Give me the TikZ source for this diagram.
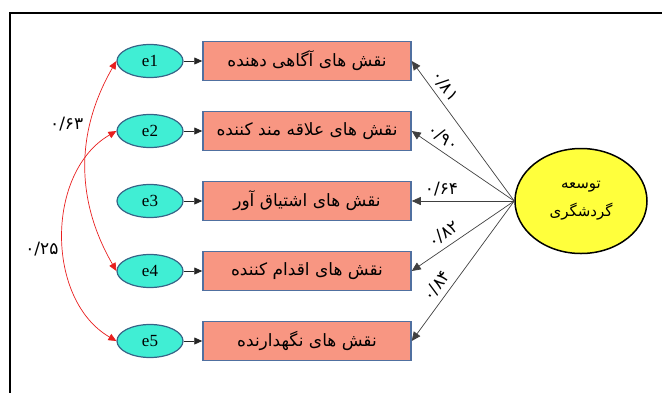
\documentclass[tikz,border=0pt]{standalone}
\usepackage{fontspec}
\setmainfont{Liberation Serif}
\newfontfamily\farsi[Script=Arabic]{DejaVu Sans}
\TeXXeTstate=1
\usepackage{tikz}
\usetikzlibrary{shapes.geometric,arrows.meta}

\definecolor{errfill}{RGB}{64,238,212}
\definecolor{errline}{RGB}{55,100,135}
\definecolor{boxfill}{RGB}{248,150,130}
\definecolor{boxline}{RGB}{80,112,160}
\definecolor{tgfill}{RGB}{255,255,60}
\definecolor{corrred}{RGB}{232,30,30}

\begin{document}
\begin{tikzpicture}[
                    x=1pt, y=1pt,
                    node distance=70pt,
                    errnode/.style={
                        ellipse,
                        draw=errline,
                        fill=errfill,
                        line width=1.2pt,
                        minimum width=66pt,
                        minimum height=33pt,
                        inner sep=0pt,
                        font=\fontsize{17}{19}\selectfont
                    },
                    rolebox/.style={
                        rectangle,
                        draw=boxline,
                        fill=boxfill,
                        line width=1.5pt,
                        minimum width=208pt,
                        minimum height=39pt,
                        inner sep=2pt,
                        font=\farsi\fontsize{17}{19}\selectfont
                    },
                    latent/.style={
                        ellipse,
                        draw,
                        fill=tgfill,
                        line width=1.5pt,
                        minimum width=132pt,
                        minimum height=105pt,
                        inner sep=0pt,
                        align=center,
                        font=\farsi\fontsize{15}{17}\selectfont
                    },
                    errarrow/.style={-{Triangle[length=8pt,width=7pt]}, draw=black!85, line width=0.8pt},
                    loading/.style={-{Triangle[length=9pt,width=8pt]}, draw=black!75, line width=0.7pt},
                    corr/.style={{Triangle[length=8pt,width=7pt]}-{Triangle[length=8pt,width=7pt]}, draw=corrred, line width=0.7pt},
                    coef/.style={font=\farsi\fontsize{17}{19}\selectfont, sloped, above=3pt, inner sep=2pt},
                    corrlabel/.style={font=\farsi\fontsize{17}{19}\selectfont, inner sep=2pt}
                ]
                    \useasboundingbox (-150,61) rectangle (512,-331);
                    \clip (-150,61) rectangle (512,-331);
                    \draw[line width=1.6pt] (-140,48) rectangle (530,-350);

                    \node[errnode] (e1) {e1};
                    \node[errnode] (e2) [below of=e1] {e2};
                    \node[errnode] (e3) [below of=e2] {e3};
                    \node[errnode] (e4) [below of=e3] {e4};
                    \node[errnode] (e5) [below of=e4] {e5};

                    \node[rolebox] (b1) [right of=e1, node distance=157pt] {\beginR نقش های آگاهی دهنده\endR};
                    \node[rolebox] (b2) [right of=e2, node distance=157pt] {\beginR نقش های علاقه مند کننده\endR};
                    \node[rolebox] (b3) [right of=e3, node distance=157pt] {\beginR نقش های اشتیاق آور\endR};
                    \node[rolebox] (b4) [right of=e4, node distance=157pt] {\beginR نقش های اقدام کننده\endR};
                    \node[rolebox] (b5) [right of=e5, node distance=157pt] {\beginR نقش های نگهدارنده\endR};

                    \node[latent] (tg) [right of=b3, node distance=274pt] {\beginR توسعه\endR\\[10pt]\beginR گردشگری\endR};

                    % Edges
                    \draw[errarrow] (e1) -- (b1);
                    \draw[errarrow] (e2) -- (b2);
                    \draw[errarrow] (e3) -- (b3);
                    \draw[errarrow] (e4) -- (b4);
                    \draw[errarrow] (e5) -- (b5);

                    \draw[loading] (tg.west) -- node[coef, pos=0.77] {۰/۸۱} (b1.east);
                    \draw[loading] (tg.west) -- node[coef, pos=0.76] {۰/۹۰} (b2.east);
                    \draw[loading] (tg.west) -- node[coef, pos=0.71] {۰/۶۴} (b3.east);
                    \draw[loading] (tg.west) -- node[coef, pos=0.62] {۰/۸۲} (b4.east);
                    \draw[loading] (tg.west) -- node[coef, pos=0.66] {۰/۸۴} (b5.east);

                    \draw[corr] (e1.west) to[out=240, in=120] node[corrlabel, pos=0.3, left=5pt] {۰/۶۳} (e4.west);
                    \draw[corr] (e2.west) to[out=210, in=150] node[corrlabel, pos=0.55, left=3pt] {۰/۲۵} (e5.west);
                \end{tikzpicture}
\end{document}
